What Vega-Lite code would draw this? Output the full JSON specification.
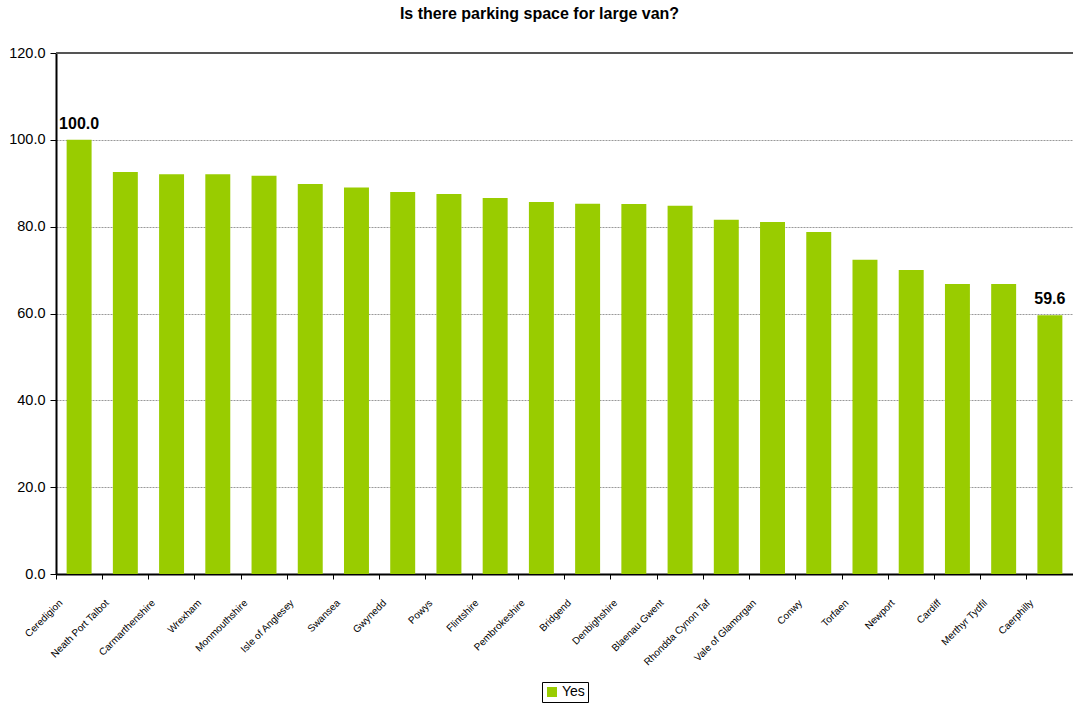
{
  "$schema": "https://vega.github.io/schema/vega-lite/v6.json",
  "autosize": {"type": "none"},
  "padding": {"left": 56, "top": 53, "right": 0, "bottom": 131},
  "width": 1017,
  "height": 521,
  "background": "white",
  "title": {
    "text": "Is there parking space for large van?",
    "font": "Liberation Sans",
    "fontSize": 16,
    "fontWeight": "bold",
    "color": "#000000",
    "anchor": "middle",
    "dx": -25,
    "offset": 23
  },
  "data": {
    "values": [
      {"region": "Ceredigion", "value": 100.0, "series": "Yes"},
      {"region": "Neath Port Talbot", "value": 92.6, "series": "Yes"},
      {"region": "Carmarthenshire", "value": 92.1, "series": "Yes"},
      {"region": "Wrexham", "value": 92.1, "series": "Yes"},
      {"region": "Monmouthshire", "value": 91.7, "series": "Yes"},
      {"region": "Isle of Anglesey", "value": 89.8, "series": "Yes"},
      {"region": "Swansea", "value": 89.0, "series": "Yes"},
      {"region": "Gwynedd", "value": 88.0, "series": "Yes"},
      {"region": "Powys", "value": 87.5, "series": "Yes"},
      {"region": "Flintshire", "value": 86.6, "series": "Yes"},
      {"region": "Pembrokeshire", "value": 85.7, "series": "Yes"},
      {"region": "Bridgend", "value": 85.3, "series": "Yes"},
      {"region": "Denbighshire", "value": 85.2, "series": "Yes"},
      {"region": "Blaenau Gwent", "value": 84.8, "series": "Yes"},
      {"region": "Rhondda Cynon Taf", "value": 81.6, "series": "Yes"},
      {"region": "Vale of Glamorgan", "value": 81.1, "series": "Yes"},
      {"region": "Conwy", "value": 78.8, "series": "Yes"},
      {"region": "Torfaen", "value": 72.4, "series": "Yes"},
      {"region": "Newport", "value": 70.0, "series": "Yes"},
      {"region": "Cardiff", "value": 66.8, "series": "Yes"},
      {"region": "Merthyr Tydfil", "value": 66.8, "series": "Yes"},
      {"region": "Caerphilly", "value": 59.6, "series": "Yes"}
    ]
  },
  "encoding": {
    "x": {
      "field": "region",
      "type": "nominal",
      "sort": null,
      "title": null,
      "scale": {"paddingInner": 0.46, "paddingOuter": 0.23},
      "axis": {
        "bandPosition": -0.42,
        "labelAngle": -45,
        "labelAlign": "right",
        "labelBaseline": "middle",
        "labelFont": "Liberation Sans",
        "labelFontSize": 10,
        "labelColor": "#000000",
        "labelPadding": 22,
        "labelOffset": -18,
        "tickSize": 5,
        "tickColor": "#000000",
        "domainColor": "#000000",
        "domainWidth": 2,
        "grid": false
      }
    },
    "y": {
      "field": "value",
      "type": "quantitative",
      "title": null,
      "scale": {"domain": [0, 120], "nice": false},
      "axis": {
        "values": [0, 20, 40, 60, 80, 100, 120],
        "format": ".1f",
        "labelFont": "Liberation Sans",
        "labelFontSize": 14.5,
        "labelColor": "#000000",
        "labelPadding": 5,
        "tickSize": 6,
        "tickColor": "#000000",
        "domainColor": "#000000",
        "domainWidth": 2,
        "grid": true,
        "gridColor": "#999999",
        "gridDash": [2, 1],
        "gridWidth": 1
      }
    }
  },
  "layer": [
    {
      "mark": {"type": "bar", "color": "#99cc00"},
      "encoding": {
        "color": {
          "field": "series",
          "type": "nominal",
          "scale": {"range": ["#99cc00"]},
          "legend": {
            "title": null,
            "orient": "none",
            "legendX": 486,
            "legendY": 629,
            "direction": "horizontal",
            "symbolType": "square",
            "symbolSize": 100,
            "symbolStrokeWidth": 0,
            "labelFont": "Liberation Sans",
            "labelFontSize": 14,
            "labelColor": "#000000",
            "labelOffset": 3,
            "strokeColor": "#000000",
            "padding": 3
          }
        }
      }
    },
    {
      "mark": {"type": "rule", "color": "#555555", "strokeWidth": 2},
      "encoding": {"y": {"datum": 120}, "x": null}
    },
    {
      "transform": [{"filter": "datum.region == 'Ceredigion' || datum.region == 'Caerphilly'"}],
      "mark": {"type": "text", "dy": -8, "baseline": "bottom", "font": "Liberation Sans", "fontSize": 16, "fontWeight": "bold", "color": "#000000"},
      "encoding": {
        "text": {"field": "value", "type": "quantitative", "format": ".1f"}
      }
    }
  ],
  "config": {
    "view": {"stroke": null}
  }
}
